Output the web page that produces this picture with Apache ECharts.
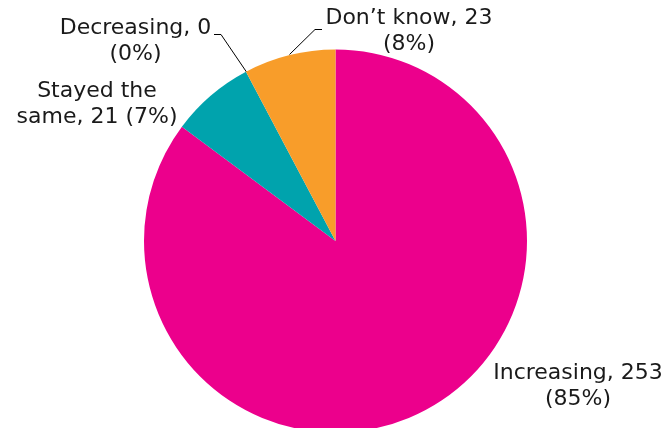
<!DOCTYPE html>
<html>
<head>
<meta charset="utf-8">
<style>
  html, body { margin: 0; padding: 0; background: #ffffff; }
  #chart { width: 671px; height: 428px; }
</style>
<script src="https://cdn.jsdelivr.net/npm/echarts@6/dist/echarts.min.js"></script>
</head>
<body>
<div id="chart"></div>
<script>
// Survey answers, clockwise from 12 o'clock
const categories = ['Increasing', 'Stayed the same', 'Decreasing', 'Don\u2019t know'];
const counts = [253, 21, 0, 23];
const sliceColors = ['#EC008C', '#00A3AD', '#F9A12E', '#F89D2A'];

// Label placement (text block centre) and leader lines, in pixels
const labelCentres = [[578, 386], [97, 104], [135.5, 41], [409, 31.5]];
const leaderLines = [
  null,
  null,
  [[246.5, 72], [221, 34.5], [214, 34.5]],
  [[289.5, 54.5], [315, 29.5], [322, 29.5]]
];

const total = counts.reduce((a, b) => a + b, 0);

function labelText(p) {
  const pct = Math.round(p.value / total * 100);
  if (p.name === 'Stayed the same') {
    return 'Stayed the\nsame, ' + p.value + ' (' + pct + '%)';
  }
  return p.name + ', ' + p.value + '\n(' + pct + '%)';
}

const chart = echarts.init(document.getElementById('chart'), null, { renderer: 'canvas' });

chart.setOption({
  animation: false,
  backgroundColor: '#ffffff',
  series: [{
    type: 'pie',
    center: [335.5, 241],
    radius: 191.5,
    startAngle: 90,
    clockwise: true,
    avoidLabelOverlap: false,
    minShowLabelAngle: -1,
    stillShowZeroSum: true,
    itemStyle: { borderWidth: 0 },
    emphasis: { disabled: true },
    label: {
      show: true,
      position: 'outside',
      formatter: labelText,
      fontFamily: 'DejaVu Sans',
      fontSize: 22,
      lineHeight: 26,
      color: '#1a1a1a',
      align: 'center'
    },
    labelLine: {
      show: true,
      smooth: false,
      lineStyle: { color: '#000000', width: 1 }
    },
    labelLayout: function (params) {
      const i = params.dataIndex;
      const out = {
        x: labelCentres[i][0],
        y: labelCentres[i][1],
        align: 'center',
        verticalAlign: 'middle'
      };
      if (leaderLines[i]) {
        out.labelLinePoints = leaderLines[i];
      }
      return out;
    },
    data: categories.map((name, i) => ({
      name: name,
      value: counts[i],
      itemStyle: { color: sliceColors[i] },
      labelLine: { show: !!leaderLines[i] }
    }))
  }]
});
</script>
</body>
</html>
